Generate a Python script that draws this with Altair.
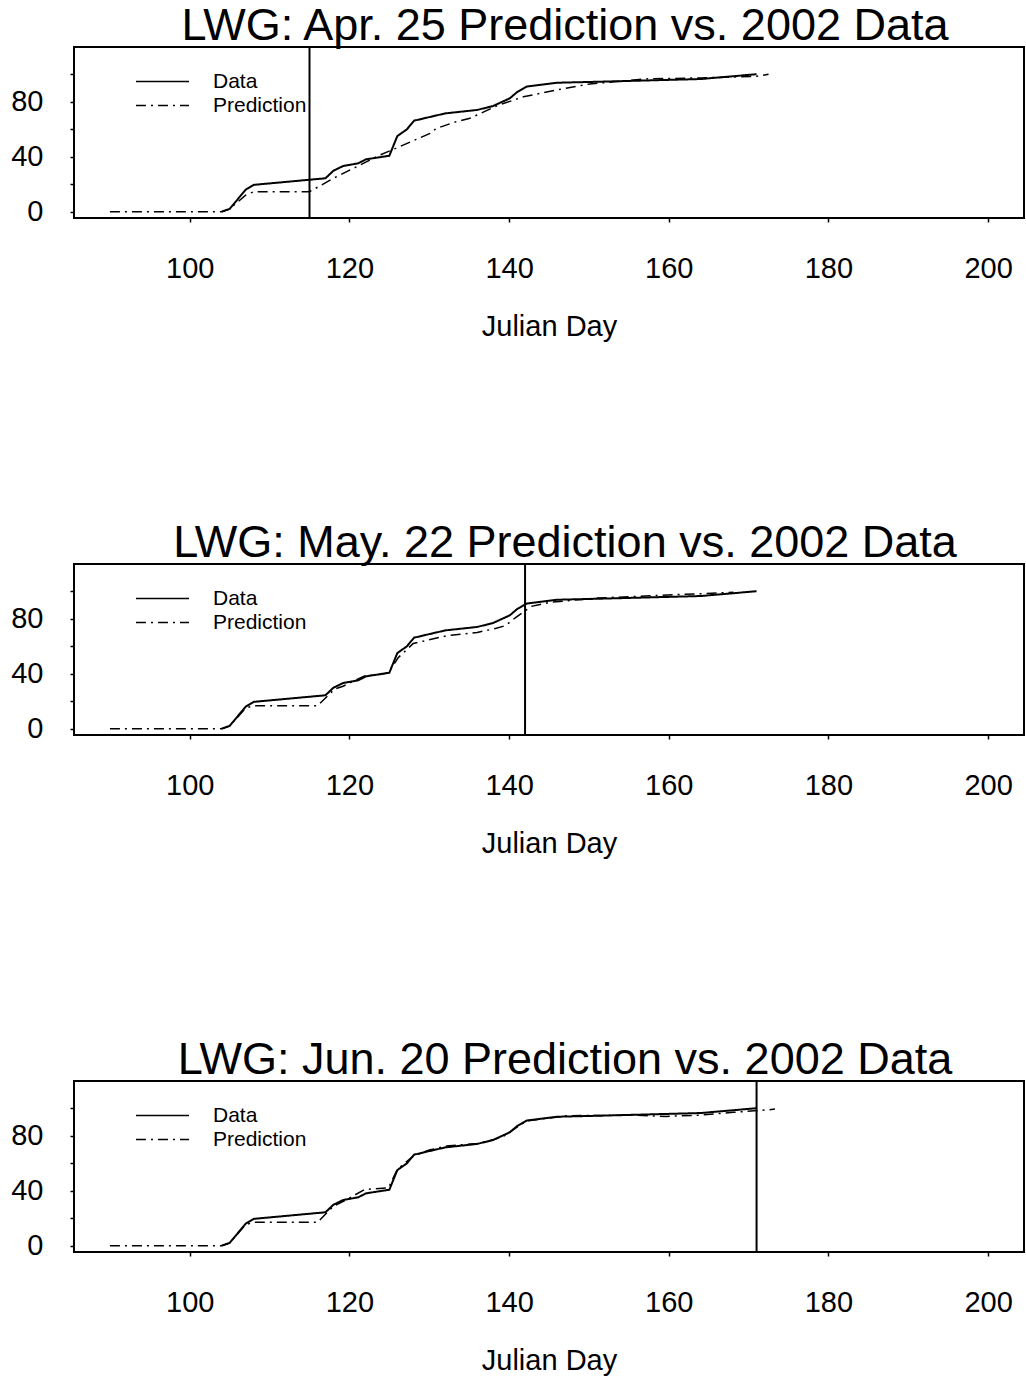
import altair as alt
import pandas as pd

FONT = "Liberation Sans"

titles = [
    "LWG: Apr. 25 Prediction vs. 2002 Data",
    "LWG: May. 22 Prediction vs. 2002 Data",
    "LWG: Jun. 20 Prediction vs. 2002 Data",
]
cutoffs = [115, 142, 171]

data_day = [104, 105, 107, 108, 117, 118, 119.2, 121.1, 122.1, 125, 126, 127.2,
            128.1, 132, 136, 138, 140.1, 141, 142.2, 146, 151, 164, 171]
data_val = [0, 2, 16, 19.5, 24.3, 29.8, 33.2, 35.2, 38.1, 40.7, 55, 59.9,
            66.2, 71.5, 74, 76.9, 82.5, 87, 91, 93.8, 94.5, 96.5, 100]

pred1_day = [90, 104, 105, 107, 108, 115, 118, 120.9, 123.8, 126.3, 130.1, 130.9,
             133.4, 135.1, 138.4, 141.8, 145.9, 150.1, 157.2, 164, 171, 172.5]
pred1_val = [0, 0, 2, 12, 14.5, 14.5, 24.3, 32.7, 41.2, 47.3, 57, 60.6,
             65.5, 67.9, 76.9, 83.6, 88.5, 92.9, 96.6, 97.3, 98.5, 100]

pred2_day = [90, 104, 105, 107, 108, 116, 117, 118.2, 119.2, 121.9, 124, 124.9,
             126.1, 128, 132.2, 136, 138.4, 139.5, 140.9, 142.8, 145.1, 151, 158.9, 168.1]
pred2_val = [0, 0, 2, 15, 16.7, 16.7, 22.3, 29, 30.9, 38.4, 39.6, 40.8,
             51.6, 62, 67.6, 70, 73, 74.9, 81.2, 89, 91.9, 95, 97, 99.2]

pred3_day = [90, 104, 105, 107, 108, 116, 118, 119.5, 121.9, 124.9, 126, 128,
             130, 132.2, 136, 138, 139.4, 142.2, 147.2, 155.5, 159.7, 163.9, 168.1, 172.2, 173.3]
pred3_val = [0, 0, 2, 15.3, 17, 17, 28.7, 33, 40.9, 42.1, 55.4, 65.2,
             69.6, 72.5, 74.4, 77, 80, 90.8, 94.5, 95, 94, 95, 97, 98.7, 99.4]

pred_days = [pred1_day, pred2_day, pred3_day]
pred_vals = [pred1_val, pred2_val, pred3_val]

x_ticks = [100, 120, 140, 160, 180, 200]
y_ticks = [0, 20, 40, 60, 80, 100]
series_names = ["Data", "Prediction"]

x_scale = alt.Scale(domain=[85.5, 204.5], nice=False, zero=False)
y_scale = alt.Scale(domain=[-4.6, 119.8], nice=False, zero=False)

x_axis = alt.Axis(values=x_ticks, title="Julian Day", tickSize=4, labelPadding=32,
                  titlePadding=29, grid=False, domain=False,
                  labelFont=FONT, labelFontSize=29, labelColor="black",
                  titleFont=FONT, titleFontSize=29, titleFontWeight="normal",
                  titleColor="black", tickColor="black", tickWidth=1.5)
y_axis = alt.Axis(values=y_ticks, title=None, tickSize=4, labelPadding=27, grid=False,
                  domain=False, labelExpr="datum.value % 40 === 0 ? datum.label : ''",
                  labelFont=FONT, labelFontSize=29, labelColor="black",
                  tickColor="black", tickWidth=1.5)


def panel(i):
    df = pd.concat([
        pd.DataFrame({"day": data_day, "value": data_val, "series": "Data"}),
        pd.DataFrame({"day": pred_days[i], "value": pred_vals[i], "series": "Prediction"}),
    ])
    lines = alt.Chart(df).mark_line(color="black").encode(
        x=alt.X("day:Q", scale=x_scale, axis=x_axis),
        y=alt.Y("value:Q", scale=y_scale, axis=y_axis),
        strokeDash=alt.StrokeDash(
            "series:N",
            scale=alt.Scale(domain=series_names, range=[[1, 0], [10, 5, 2, 5]]),
            legend=alt.Legend(
                title=None, orient="none", legendX=78, legendY=24,
                symbolType="M-4,0H4", symbolSize=176, symbolStrokeWidth=1.5,
                symbolStrokeColor="black", labelFontSize=21, labelFont=FONT,
                labelOffset=40, padding=0, rowPadding=2, labelColor="black",
            ),
        ),
        strokeWidth=alt.StrokeWidth(
            "series:N", scale=alt.Scale(domain=series_names, range=[2, 1.5]), legend=None
        ),
        order="day:Q",
    )
    rule = alt.Chart(pd.DataFrame({"cut": [cutoffs[i]]})).mark_rule(
        color="black", strokeWidth=2
    ).encode(x=alt.X("cut:Q", scale=x_scale, axis=x_axis))
    return alt.layer(lines, rule).properties(
        width=950, height=171,
        title=alt.TitleParams(titles[i], fontSize=45, font=FONT, fontWeight="normal",
                              color="black", dx=16, offset=-3),
    )


chart = alt.vconcat(panel(0), panel(1), panel(2), spacing=178).resolve_legend(
    strokeDash="independent"
).properties(
    padding={"left": 9, "top": 3, "right": 0, "bottom": 0},
    background="white",
).configure_view(
    stroke="black", strokeWidth=2
)

chart.save("out.html", embed_options={"renderer": "svg", "actions": False})
